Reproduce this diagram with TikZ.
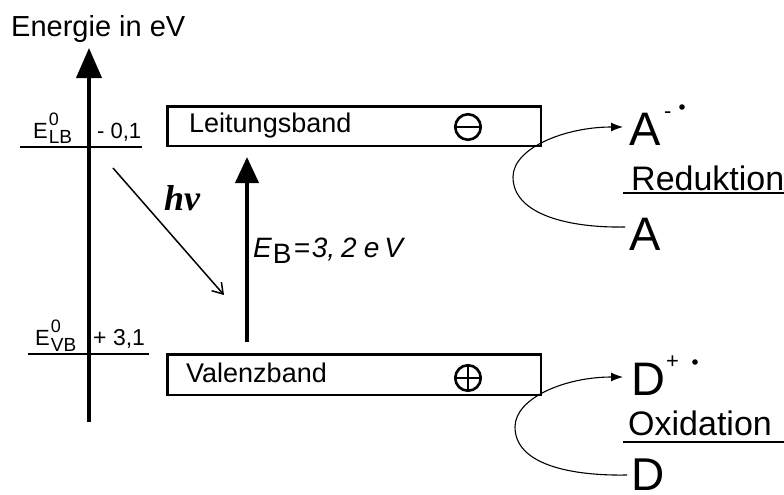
\documentclass[tikz,border=0pt]{standalone}
\usepackage{fontspec}
\setmainfont{Liberation Sans}
\newfontfamily\serifbi{Liberation Serif}
\usetikzlibrary{arrows.meta}
\newcommand{\fs}[1]{\fontsize{#1}{#1}\selectfont}
\tikzset{
  txt/.style={inner sep=0pt, anchor=base west},
  band/.style={draw, line width=2.5pt, minimum width=373.5pt, inner sep=0pt},
  level/.style={line width=1.4pt},
  bigarrow/.style={line width=4pt, -{Triangle[length=30pt,width=25pt]}},
  curvearrow/.style={line width=1.1pt, -{Latex[length=12pt,width=9pt]}},
  sym/.style={circle, draw, line width=2.6pt, minimum size=25.5pt, inner sep=0pt},
}
\begin{document}
\begin{tikzpicture}[x=1pt,y=-1pt]
\useasboundingbox (0,0) rectangle (784,495);
% title
\node[txt] (title) at (11,37) {\fs{29}Energie in eV};
% energy axis
\coordinate (axbot) at (89,422);
\coordinate (axtop) at (89,48);
\draw[bigarrow] (axbot) -- (axtop);
% levels
\coordinate (lbL) at (20,147); \coordinate (lbR) at (142,147);
\coordinate (vbL) at (28,354); \coordinate (vbR) at (149,354);
\draw[level] (lbL) -- (lbR);
\draw[level] (vbL) -- (vbR);
\node[txt] (elb) at (33,138) {\fs{22}E\kern1pt\rlap{\raisebox{13pt}{\fs{18}0}}\raisebox{-5pt}{\fs{19}LB}};
\node[txt] (vlb) at (97,138) {\fs{22}- 0,1};
\node[txt] (evb) at (35,345) {\fs{22}E\kern1pt\rlap{\raisebox{13pt}{\fs{18}0}}\raisebox{-6pt}{\fs{19}VB}};
\node[txt] (vvb) at (93,345) {\fs{23}+ 3,1};
% bands
\node[band, minimum height=39.5pt] (lband) at (354,126) {};
\node[band, minimum height=40.5pt] (vband) at (354,374.5) {};
\node[txt] (lbtext) at (189,132) {\fs{27}Leitungsband};
\node[txt] (vbtext) at (186,382) {\fs{27}Valenzband};
\node[sym] (minus) at (468,127) {};
\draw[line width=2.6pt] (minus.west) -- (minus.east);
\node[sym] (plus) at (468,378) {};
\draw[line width=2.6pt] (plus.west) -- (plus.east);
\draw[line width=2.6pt] (plus.north) -- (plus.south);
% band gap arrow
\coordinate (ebbot) at (247,342);
\coordinate (ebtop) at (247,157);
\draw[line width=4pt, -{Triangle[length=26pt,width=23pt]}] (ebbot) -- (ebtop);
\node[txt] (eb) at (253,257) {\fs{28}\itshape E\kern1pt\raisebox{-6pt}{\upshape B}\kern2pt=\kern2pt3,\kern6pt2\kern7pt e\kern5pt V};
% photon
\coordinate (hvs) at (113,168);
\coordinate (hve) at (224,295);
\draw[line width=1.5pt, -{Straight Barb[length=10pt,width=13pt]}] (hvs) -- (hve);
\node[txt] (hv) at (164,210) {\serifbi\bfseries\itshape\fs{36}hv};
% reduction
\node[txt] (Arad) at (629,145) {\fs{47}A};
\node[txt] (Aminus) at (664,118) {\fs{22}-};
\fill (682,107) circle (2.8pt);
\node[txt] (red) at (631,190) {\fs{34}Reduktion};
\coordinate (redL) at (623,193); \coordinate (redR) at (784,193);
\draw[line width=1.4pt] (redL) -- (redR);
\node[txt] (A) at (629,250) {\fs{47}A};
\coordinate (Ain) at (625,227);
\coordinate (Aout) at (623,127);
\draw[curvearrow] (Ain) .. controls (570,228) and (513,215) .. (513,177)
  .. controls (513,148) and (565,127) .. (Aout);
% oxidation
\node[txt] (Drad) at (631,395) {\fs{47}D};
\node[txt] (Dplus) at (666,368) {\fs{22}+};
\fill (695,362) circle (2.8pt);
\node[txt] (ox) at (628,435) {\fs{34}Oxidation};
\coordinate (oxL) at (623,442); \coordinate (oxR) at (784,442);
\draw[line width=1.4pt] (oxL) -- (oxR);
\node[txt] (D) at (631,490) {\fs{46}D};
\coordinate (Din) at (627,475);
\coordinate (Dout) at (623,377);
\draw[curvearrow] (Din) .. controls (572,476) and (515,465) .. (515,427)
  .. controls (515,398) and (565,377) .. (Dout);
\end{tikzpicture}
\end{document}
